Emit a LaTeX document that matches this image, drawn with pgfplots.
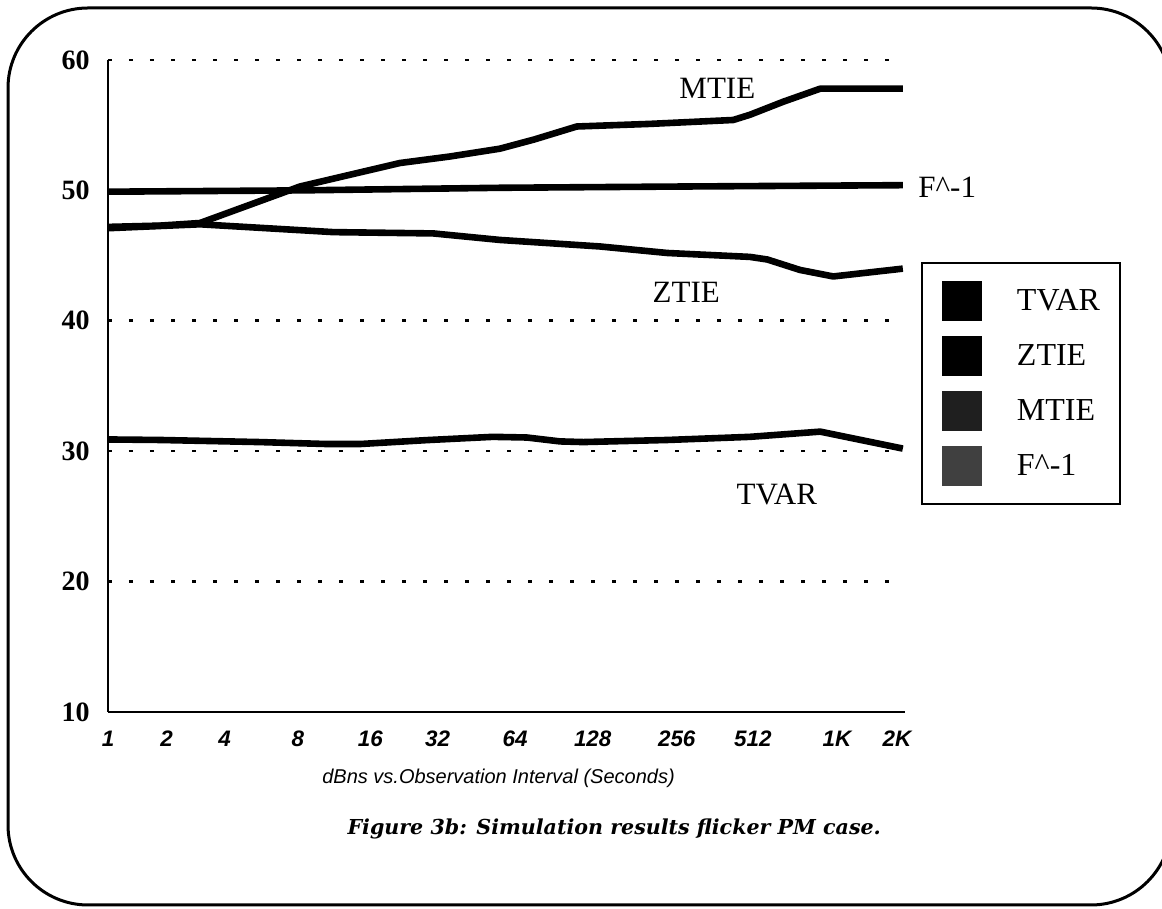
\documentclass[border=0pt]{standalone}
\usepackage{fontspec}
\setmainfont{Liberation Serif}
\newfontfamily\axsans{Liberation Sans}
\newfontfamily\capfont{DejaVu Serif}
\usepackage{pgfplots}
\pgfplotsset{compat=1.18}

\begin{document}
\begin{tikzpicture}
\useasboundingbox (0,0) rectangle (581pt,454.5pt);
\draw[line width=1.5pt, rounded corners=40pt] (4pt,2pt) rectangle (585.5pt,450.5pt);
\begin{axis}[
 at={(54pt,98.5pt)}, anchor=south west,
 scale only axis, width=398.5pt, height=326pt,
 xmin=0, xmax=11, ymin=10, ymax=60,
 axis x line*=bottom, axis y line*=left,
 axis line style={line width=1pt, -},
 xtick={0,0.81,1.61,2.62,3.62,4.55,5.62,6.69,7.85,8.90,10.06,10.89},
 xticklabels={1,2,4,8,16,32,64,128,256,512,1K,2K},
 ytick={10,20,30,40,50,60},
 extra y ticks={20,30,40,60},
 extra y tick labels={},
 extra y tick style={ymajorgrids=true},
 major tick length=0pt,
 grid style={line width=1.3pt, dash pattern=on 1.8pt off 8.7pt, black},
 xticklabel style={font=\axsans\bfseries\itshape\fontsize{11.2}{13}\selectfont, anchor=base, inner sep=0pt, yshift=-17.5pt},
 yticklabel style={font=\bfseries\fontsize{14}{16}\selectfont, anchor=east, inner sep=0pt, xshift=-9pt},
 /pgf/number format/assume math mode=true,
 xlabel={dBns vs.Observation Interval (Seconds)},
 xlabel style={at={(axis description cs:0.49,-0.1012)}, anchor=center, font=\axsans\itshape\fontsize{10}{12}\selectfont},
 clip=false,
 legend style={at={(axis description cs:1.02,0.69)}, anchor=north west, draw=black, line width=1pt, inner xsep=10pt, inner ysep=9pt, row sep=7.5pt, column sep=17.5pt, font=\fontsize{16}{18}\selectfont, nodes={inner sep=0pt, anchor=west}},
 legend cell align=left,
]
% TVAR
\addplot[black, line width=3.3pt, line join=round, forget plot] coordinates {
(0,30.9) (0.72,30.86) (2.09,30.7) (3.02,30.55) (3.48,30.55) (4.40,30.85) (5.31,31.1) (5.78,31.05) (6.24,30.75) (6.56,30.7) (7.72,30.86) (8.86,31.1) (9.83,31.5) (10.97,30.2)};
% ZTIE
\addplot[black, line width=3.3pt, line join=round, forget plot] coordinates {
(0,47.1) (1.27,47.4) (3.11,46.8) (4.49,46.7) (5.41,46.2) (6.79,45.7) (7.72,45.2) (8.86,44.9) (9.10,44.7) (9.55,43.9) (10.01,43.4) (10.97,44.0)};
% MTIE
\addplot[black, line width=3.3pt, line join=round, forget plot] coordinates {
(0,47.2) (0.72,47.3) (1.27,47.5) (1.96,48.9) (2.65,50.3) (3.34,51.2) (4.03,52.1) (4.72,52.6) (5.41,53.2) (5.88,53.9) (6.47,54.9) (7.48,55.1) (8.63,55.4) (8.86,55.8) (9.32,56.8) (9.83,57.8) (10.97,57.8)};
% F^-1
\addplot[black, line width=3.3pt, line join=round, forget plot] coordinates {
(0,49.9) (2.65,50.0) (5.41,50.2) (8.0,50.3) (10.97,50.4)};

\addlegendimage{legend image code/.code={\fill[black] (0pt,-9.5pt) rectangle (19pt,9.5pt);}}
\addlegendentry{TVAR}
\addlegendimage{legend image code/.code={\fill[black] (0pt,-9.5pt) rectangle (19pt,9.5pt);}}
\addlegendentry{ZTIE}
\addlegendimage{legend image code/.code={\fill[black!88] (0pt,-9.5pt) rectangle (19pt,9.5pt);}}
\addlegendentry{MTIE}
\addlegendimage{legend image code/.code={\fill[black!75] (0pt,-9.5pt) rectangle (19pt,9.5pt);}}
\addlegendentry{F\textasciicircum-1}

\node[font=\fontsize{15.5}{17}\selectfont] at (axis cs:8.41,57.85) {MTIE};
\node[font=\fontsize{15.5}{17}\selectfont] at (axis cs:7.98,42.2) {ZTIE};
\node[font=\fontsize{15.5}{17}\selectfont] at (axis cs:9.23,26.7) {TVAR};
\node[font=\fontsize{15.5}{17}\selectfont, anchor=west, inner sep=0pt] at (axis cs:11.18,50.26) {F\textasciicircum-1};
\end{axis}
\node[anchor=base east, font=\capfont\bfseries\itshape\fontsize{10.3}{12}\selectfont] at (444pt,37pt) {Figure 3b: Simulation results flicker PM case.};
\end{tikzpicture}
\end{document}
